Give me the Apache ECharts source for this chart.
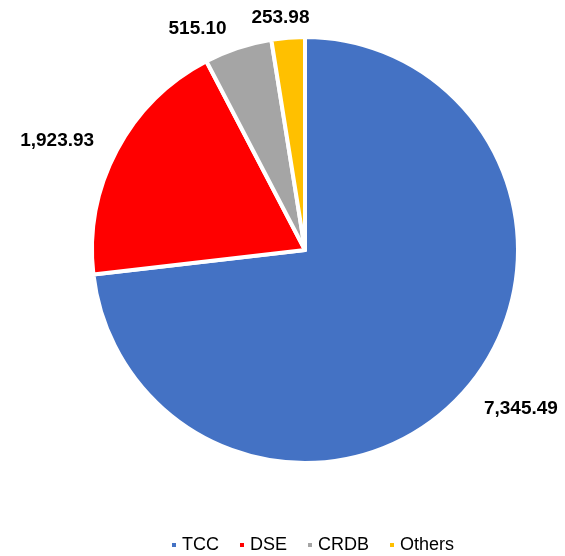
<!DOCTYPE html>
<html>
<head>
<meta charset="utf-8">
<script src="https://cdn.jsdelivr.net/npm/echarts@6/dist/echarts.min.js"></script>
<style>
  html, body { margin: 0; padding: 0; background: #fff; }
  #chart { width: 565px; height: 556px; }
</style>
</head>
<body>
<div id="chart"></div>
<script>
const categories = ['TCC', 'DSE', 'CRDB', 'Others']
const values = [7345.49, 1923.93, 515.10, 253.98]
const colors = ['#4472C4', '#FF0000', '#A5A5A5', '#FFC000']

const chart = echarts.init(document.getElementById('chart'))

chart.setOption({
  animation: false,
  color: colors,
  legend: {
    top: 531,
    left: 165,
    icon: 'rect',
    itemWidth: 6,
    itemHeight: 6,
    itemGap: 19,
    textStyle: { color: '#000', fontSize: 18, fontFamily: 'Arial, "Liberation Sans"' },
    data: categories
  },
  series: [{
    type: 'pie',
    center: [305, 250],
    radius: 213,
    startAngle: 90,
    clockwise: true,
    avoidLabelOverlap: false,
    itemStyle: { borderColor: '#fff', borderWidth: 4 },
    label: {
      show: true,
      position: 'outside',
      color: '#000',
      fontSize: 19,
      fontWeight: 'bold',
      fontFamily: 'Arial, "Liberation Sans"',
      formatter: p => echarts.format.addCommas(p.value.toFixed(2))
    },
    labelLine: { show: false, length: 20, length2: 0 },
    // nudge the thin slice labels to sit where the original has them
    labelLayout: p => {
      if (p.dataIndex === 3) return { dx: 28 }
      if (p.dataIndex === 0) return { dy: 4 }
      return {}
    },
    data: categories.map((name, i) => ({ name, value: values[i] }))
  }]
})
</script>
</body>
</html>
